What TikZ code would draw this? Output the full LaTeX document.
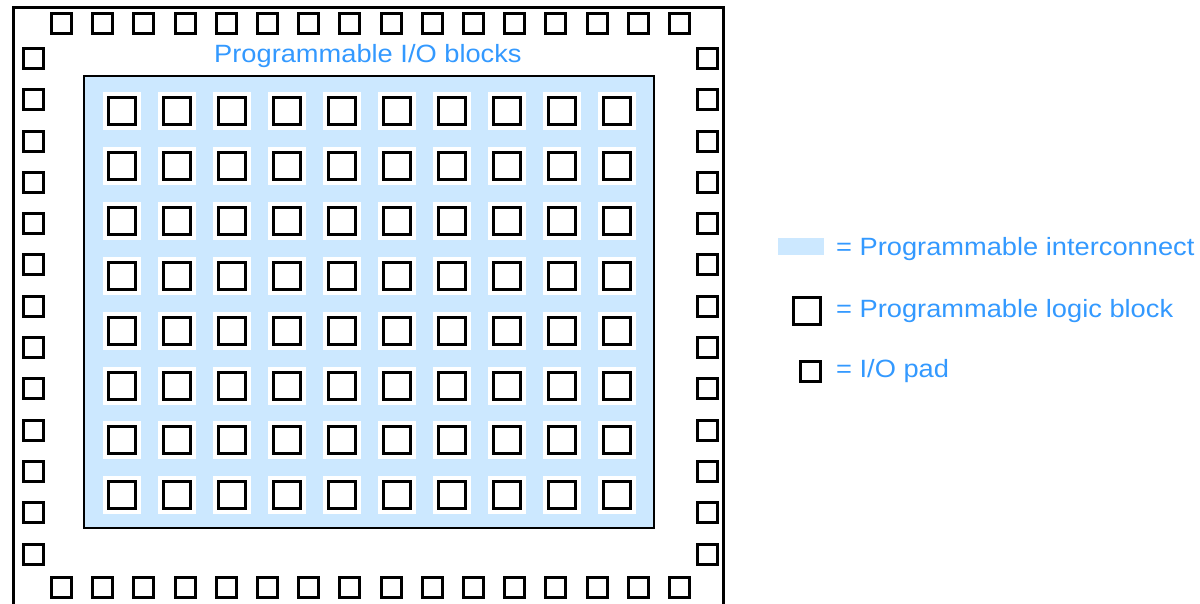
\documentclass[tikz,border=0pt]{standalone}
\usepackage{fontspec}
\setmainfont{Liberation Sans}
\definecolor{icblue}{RGB}{204,232,255}
\definecolor{txtblue}{RGB}{51,153,255}
\newcommand{\lbl}[1]{\scalebox{1.09}[1]{\fontsize{25}{30}\selectfont #1}}
\begin{document}
\begin{tikzpicture}[x=1pt,y=-1pt,
  padbox/.style={draw=black,line width=3pt,fill=white,minimum size=20pt,inner sep=0pt,outer sep=0pt},
  logicbox/.style={draw=black,line width=3pt,fill=white,minimum size=27pt,inner sep=0pt,outer sep=0pt},
  halo/.style={fill=white,draw=none,minimum size=38pt,inner sep=0pt},
  labeltext/.style={text=txtblue,inner sep=0pt,anchor=base west}]
\useasboundingbox (0,0) rectangle (1200,604);
\clip (0,0) rectangle (1200,604);
% outer frame
\draw[line width=3pt] (13.5,620) -- (13.5,7.5) -- (723.5,7.5) -- (723.5,620);
% inner interconnect area
\node[draw=black,line width=2pt,fill=icblue,inner sep=0pt,minimum width=570pt,minimum height=452pt] (core) at (369,302) {};
% top and bottom pads
\foreach \i in {0,...,15}{
  \node[padbox] (pt\i) at ({61.5+41.2*\i},24) {};
  \node[padbox] (pb\i) at ({61.5+41.2*\i},587.5) {};
}
% left and right pads
\foreach \j in {0,...,12}{
  \node[padbox] (pl\j) at (33.5,{58.5+41.3*\j}) {};
  \node[padbox] (pr\j) at (707.5,{58.5+41.3*\j}) {};
}
% logic blocks
\foreach \i in {0,...,9}{
  \foreach \j in {0,...,7}{
    \node[halo] (h\i-\j) at ({122+55*\i},{111+54.9*\j}) {};
    \node[logicbox] (lb\i-\j) at ({122+55*\i},{111+54.9*\j}) {};
  }
}
% title
\node[labeltext] (title) at (214,63) {\lbl{Programmable I/O blocks}};
% legend
\node[fill=icblue,inner sep=0pt,minimum width=46pt,minimum height=17pt] (legic) at (801,246.5) {};
\node[labeltext] (legict) at (836,256) {\lbl{= Programmable interconnect}};
\node[logicbox] (leglb) at (807,311) {};
\node[labeltext] (leglbt) at (836,317) {\lbl{= Programmable logic block}};
\node[padbox] (legpad) at (810.5,371) {};
\node[labeltext] (legpadt) at (836,377) {\lbl{= I/O pad}};
\end{tikzpicture}
\end{document}
